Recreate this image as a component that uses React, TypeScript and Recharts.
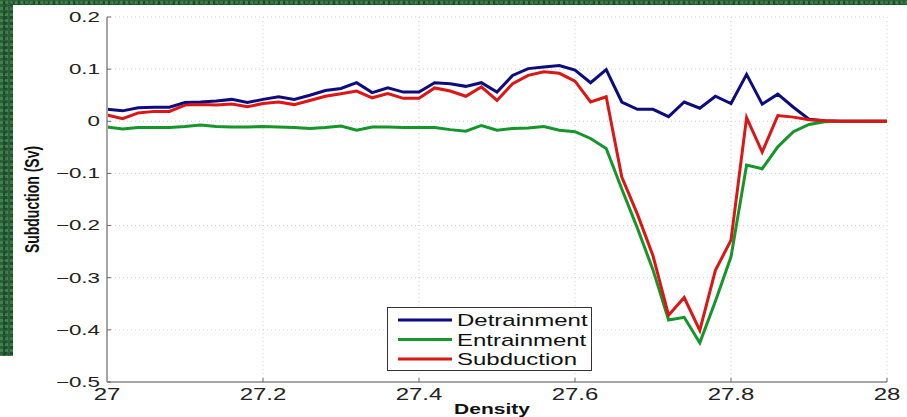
import React from "react"
import { LineChart, Line, XAxis, YAxis, CartesianGrid, Legend } from "recharts"

// density classes (kg/m3 - 1000)
const density = [
  27.0, 27.02, 27.04, 27.06, 27.08, 27.1, 27.12, 27.14, 27.16, 27.18,
  27.2, 27.22, 27.24, 27.26, 27.28, 27.3, 27.32, 27.34, 27.36, 27.38,
  27.4, 27.42, 27.44, 27.46, 27.48, 27.5, 27.52, 27.54, 27.56, 27.58,
  27.6, 27.62, 27.64, 27.66, 27.68, 27.7, 27.72, 27.74, 27.76, 27.78,
  27.8, 27.82, 27.84, 27.86, 27.88, 27.9, 27.92, 27.94, 27.96, 27.98, 28.0,
]

const detrainment = [
  0.023, 0.02, 0.026, 0.027, 0.027, 0.036, 0.037, 0.039, 0.042, 0.036,
  0.042, 0.047, 0.042, 0.05, 0.059, 0.063, 0.074, 0.055, 0.064, 0.056,
  0.056, 0.074, 0.072, 0.067, 0.074, 0.056, 0.088, 0.101, 0.104, 0.107,
  0.098, 0.074, 0.099, 0.037, 0.023, 0.023, 0.009, 0.037, 0.025, 0.048,
  0.034, 0.09, 0.033, 0.052, 0.027, 0.004, 0.001, 0, 0, 0, 0,
]

const entrainment = [
  -0.011, -0.015, -0.012, -0.012, -0.012, -0.01, -0.007, -0.01, -0.011, -0.011,
  -0.01, -0.011, -0.012, -0.014, -0.012, -0.009, -0.017, -0.011, -0.011, -0.012,
  -0.012, -0.012, -0.016, -0.019, -0.008, -0.017, -0.014, -0.013, -0.01, -0.017,
  -0.02, -0.033, -0.052, -0.13, -0.205, -0.285, -0.381, -0.376, -0.425, -0.345,
  -0.26, -0.084, -0.091, -0.049, -0.02, -0.006, -0.001, 0, 0, 0, 0,
]

const subduction = [
  0.012, 0.005, 0.016, 0.019, 0.019, 0.031, 0.032, 0.031, 0.033, 0.028,
  0.034, 0.037, 0.032, 0.04, 0.048, 0.053, 0.058, 0.045, 0.053, 0.044,
  0.044, 0.064, 0.058, 0.048, 0.066, 0.04, 0.072, 0.088, 0.095, 0.092,
  0.077, 0.037, 0.047, -0.107, -0.178, -0.258, -0.372, -0.338, -0.401, -0.286,
  -0.228, 0.007, -0.059, 0.011, 0.008, 0.003, 0.001, 0, 0, 0, 0,
]

const xTicks = [27, 27.2, 27.4, 27.6, 27.8, 28]
const yTicks = [-0.5, -0.4, -0.3, -0.2, -0.1, 0, 0.1, 0.2]

const series = [
  { key: "detrainment", name: "Detrainment", color: "#0c0c7e" },
  { key: "entrainment", name: "Entrainment", color: "#14962a" },
  { key: "subduction", name: "Subduction", color: "#dc1515" },
]

const data = density.map((d, i) => ({
  density: d,
  detrainment: detrainment[i],
  entrainment: entrainment[i],
  subduction: subduction[i],
}))

const FONT = '"Liberation Sans", Arial, Helvetica, sans-serif'
// the source picture is stretched sideways, so the text is too
const STRETCH = 1.5

const fmtY = (v: number) => (v === 0 ? "0" : v.toFixed(1).replace("-", "\u2212"))
const fmtX = (v: number) => (Number.isInteger(v) ? String(v) : v.toFixed(1))

function YTick({ x, y, payload }: any) {
  return (
    <text
      transform={`translate(${x},${y}) scale(1.6,1)`}
      textAnchor="end"
      dominantBaseline="central"
      fontFamily={FONT}
      fontSize={14}
      fill="#222"
    >
      {fmtY(payload.value)}
    </text>
  )
}

function XTick({ x, y, payload }: any) {
  return (
    <text
      transform={`translate(${x},${y + 12}) scale(${STRETCH},1)`}
      textAnchor="middle"
      fontFamily={FONT}
      fontSize={16}
      fill="#222"
    >
      {fmtX(payload.value)}
    </text>
  )
}

function YLabel({ viewBox }: any) {
  const cy = viewBox.y + viewBox.height / 2
  return (
    <text
      transform={`translate(33,${cy}) rotate(-90) scale(1,1.4)`}
      textAnchor="middle"
      dominantBaseline="central"
      fontFamily={FONT}
      fontSize={14}
      fontWeight="bold"
      fill="#111"
    >
      Subduction (Sv)
    </text>
  )
}

function XLabel({ viewBox }: any) {
  const cx = viewBox.x + viewBox.width / 2 - 5
  return (
    <text
      transform={`translate(${cx},414) scale(1.4,1)`}
      textAnchor="middle"
      fontFamily={FONT}
      fontSize={15}
      fontWeight="bold"
      fill="#111"
    >
      Density
    </text>
  )
}

function LegendBox({ payload }: any) {
  return (
    <svg width={205} height={64} style={{ display: "block" }}>
      <rect x={0.5} y={0.5} width={204} height={63} fill="#fff" stroke="#333" strokeWidth={1} />
      {(payload || []).map((p: any, i: number) => {
        const cy = 13 + i * 19.5
        return (
          <g key={p.value}>
            <line x1={11} x2={65} y1={cy} y2={cy} stroke={p.color} strokeWidth={3} />
            <text
              transform={`translate(70,${cy + 6}) scale(${STRETCH},1)`}
              fontFamily={FONT}
              fontSize={16}
              fill="#111"
            >
              {p.value}
            </text>
          </g>
        )
      })}
    </svg>
  )
}

const greenTexture =
  "radial-gradient(circle at 30% 40%, rgba(120,190,130,0.35) 0 1.5px, transparent 2px) 0 0 / 5px 6px, " +
  "radial-gradient(circle at 70% 60%, rgba(5,35,15,0.35) 0 2px, transparent 2.5px) 0 0 / 7px 5px, #2a6136"

export default function App() {
  return (
    <div style={{ position: "fixed", left: 0, top: 0, width: 907, height: 417, background: "#fff", overflow: "hidden" }}>
      <div style={{ position: "absolute", left: 0, top: 0, width: 907, height: 5, background: greenTexture }} />
      <div style={{ position: "absolute", left: 0, top: 0, width: 13, height: 356, background: greenTexture }} />
      <div style={{ position: "absolute", left: 0, top: 0 }}>
        <LineChart width={907} height={417} data={data} margin={{ top: 17, right: 20, bottom: 0, left: 0 }}>
          <CartesianGrid stroke="#cfcfcf" strokeDasharray="1 3" horizontalValues={yTicks} verticalValues={xTicks} />
          <XAxis
            dataKey="density"
            type="number"
            domain={[27, 28]}
            ticks={xTicks}
            height={35}
            axisLine={{ stroke: "#a6a6a6", strokeWidth: 2 }}
            tickLine={{ stroke: "#666" }}
            tickSize={-4}
            tickMargin={10}
            tick={<XTick />}
            interval={0}
            label={<XLabel />}
          />
          <YAxis
            type="number"
            domain={[-0.5, 0.2]}
            ticks={yTicks}
            width={107}
            axisLine={{ stroke: "#a6a6a6", strokeWidth: 2 }}
            tickLine={{ stroke: "#666" }}
            tickSize={-4}
            tickMargin={11}
            tick={<YTick />}
            interval={0}
            label={<YLabel />}
          />
          <Legend
            layout="vertical"
            align="center"
            verticalAlign="middle"
            content={<LegendBox />}
            wrapperStyle={{ left: 387, top: 307, width: 205, height: 64 }}
          />
          {series.map((s) => (
            <Line
              key={s.key}
              type="linear"
              dataKey={s.key}
              name={s.name}
              stroke={s.color}
              strokeWidth={3}
              dot={false}
              activeDot={false}
              isAnimationActive={false}
            />
          ))}
        </LineChart>
      </div>
    </div>
  )
}
